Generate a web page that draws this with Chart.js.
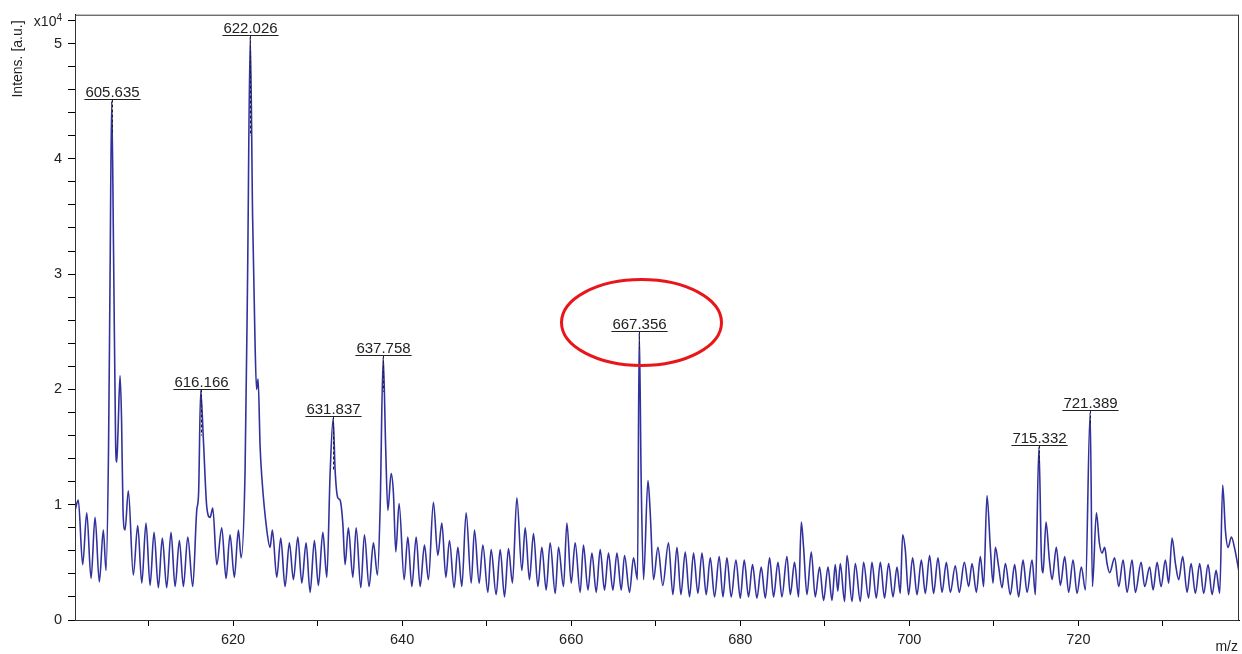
<!DOCTYPE html>
<html>
<head>
<meta charset="utf-8">
<script src="https://cdn.jsdelivr.net/npm/chart.js@4"></script>
<style>
  body { margin: 0; background: #fff; }
  #wrap { width: 1242px; height: 654px; }
</style>
</head>
<body>
<div id="wrap"><canvas id="spectrum" width="1242" height="654"></canvas></div>
<script>
// m/z and intensity (x10^4 a.u.)
const mz = [
  601.30, 601.69, 602.21, 602.69, 603.20, 603.67, 604.18, 604.65, 604.97, 605.27,
  605.45, 605.64, 605.86, 606.10, 606.24, 606.39, 606.63, 606.81, 606.98, 607.22,
  607.61, 608.20, 608.72, 609.20, 609.70, 610.18, 610.65, 611.16, 611.63, 612.15,
  612.66, 613.14, 613.65, 614.12, 614.64, 615.23, 615.70, 615.92, 616.17, 616.49,
  616.89, 617.28, 617.60, 618.07, 618.66, 619.17, 619.64, 620.15, 620.63, 620.95,
  621.42, 621.72, 622.03, 622.31, 622.60, 622.78, 622.96, 623.20, 623.40, 623.99,
  624.38, 624.65, 625.17, 625.64, 626.15, 626.66, 627.14, 627.66, 628.13, 628.64,
  629.11, 629.62, 630.09, 630.62, 631.09, 631.48, 631.84, 632.07, 632.39, 632.66,
  632.98, 633.25, 633.64, 634.17, 634.56, 635.11, 635.54, 636.09, 636.60, 637.08,
  637.40, 637.76, 638.05, 638.31, 638.70, 638.97, 639.25, 639.64, 640.24, 640.67,
  641.15, 641.66, 642.13, 642.64, 643.11, 643.70, 644.22, 644.70, 645.17, 645.60,
  646.15, 646.59, 647.06, 647.57, 648.17, 648.56, 649.11, 649.55, 650.14, 650.53,
  651.12, 651.60, 652.11, 652.58, 653.05, 653.57, 654.16, 654.56, 655.06, 655.54,
  656.06, 656.53, 657.04, 657.51, 658.11, 658.50, 659.09, 659.49, 660.00, 660.47,
  661.06, 661.45, 661.98, 662.45, 662.96, 663.43, 663.94, 664.41, 664.93, 665.41,
  665.92, 666.31, 666.90, 667.37, 667.84, 668.05, 668.28, 668.56, 669.08, 669.35,
  669.74, 670.26, 670.83, 671.51, 672.03, 672.51, 672.98, 673.49, 674.00, 674.47,
  674.99, 675.47, 675.97, 676.45, 676.96, 677.51, 677.95, 678.42, 678.93, 679.49,
  680.00, 680.47, 680.98, 681.45, 681.97, 682.48, 682.96, 683.47, 683.94, 684.46,
  684.93, 685.52, 685.92, 686.42, 686.90, 687.22, 687.49, 687.89, 688.40, 688.87,
  689.38, 689.86, 690.38, 690.85, 691.24, 691.54, 691.83, 692.34, 692.63, 693.22,
  693.61, 694.20, 694.59, 695.18, 695.58, 696.09, 696.57, 697.07, 697.55, 698.07,
  698.54, 698.93, 699.21, 699.52, 699.91, 700.39, 700.91, 701.42, 701.89, 702.40,
  702.87, 703.39, 703.87, 704.38, 704.85, 705.44, 705.91, 706.51, 707.02, 707.42,
  707.93, 708.40, 708.79, 709.19, 709.58, 709.90, 710.18, 710.57, 710.97, 711.36,
  711.95, 712.46, 712.93, 713.45, 713.93, 714.52, 714.91, 715.33, 715.62, 715.82,
  716.17, 716.57, 716.89, 717.39, 717.87, 718.38, 718.85, 719.37, 719.84, 720.35,
  720.83, 721.39, 721.66, 722.13, 722.48, 722.80, 723.11, 723.39, 723.70, 724.29,
  724.77, 725.29, 725.76, 726.35, 726.74, 727.42, 727.84, 728.43, 728.84, 729.31,
  729.78, 730.29, 730.68, 731.08, 731.48, 731.87, 732.34, 732.86, 733.33, 733.84,
  734.35, 734.82, 735.34, 735.82, 736.29, 736.72, 737.07, 737.39, 737.71, 738.10,
  738.46, 738.97
];
const intensity = [
  0.95, 1.04, 0.48, 0.93, 0.36, 0.89, 0.33, 0.78, 0.43, 1.50,
  3.00, 4.50, 3.20, 1.56, 1.37, 1.64, 2.12, 1.73, 0.95, 0.78,
  1.12, 0.39, 0.82, 0.32, 0.84, 0.30, 0.76, 0.28, 0.71, 0.28,
  0.76, 0.29, 0.69, 0.29, 0.72, 0.29, 0.95, 1.10, 1.99, 1.56,
  0.98, 0.89, 0.97, 0.48, 0.80, 0.36, 0.74, 0.37, 0.78, 0.54,
  1.30, 3.00, 5.06, 3.50, 2.40, 2.00, 2.09, 1.50, 1.24, 0.78,
  0.63, 0.78, 0.37, 0.71, 0.29, 0.67, 0.35, 0.72, 0.32, 0.67,
  0.24, 0.69, 0.30, 0.76, 0.37, 1.27, 1.75, 1.30, 1.06, 1.04,
  0.84, 0.48, 0.80, 0.37, 0.80, 0.28, 0.74, 0.29, 0.67, 0.39,
  0.98, 2.28, 1.50, 0.95, 1.27, 1.10, 0.59, 1.01, 0.35, 0.72,
  0.29, 0.72, 0.29, 0.65, 0.35, 1.02, 0.56, 0.84, 0.37, 0.69,
  0.28, 0.63, 0.29, 0.93, 0.32, 0.78, 0.32, 0.65, 0.24, 0.61,
  0.22, 0.61, 0.20, 0.62, 0.32, 1.06, 0.43, 0.80, 0.35, 0.75,
  0.29, 0.63, 0.26, 0.67, 0.23, 0.63, 0.29, 0.84, 0.32, 0.67,
  0.24, 0.65, 0.26, 0.58, 0.24, 0.61, 0.26, 0.58, 0.26, 0.58,
  0.26, 0.56, 0.24, 0.54, 0.35, 2.49, 1.20, 0.35, 1.21, 0.93,
  0.35, 0.63, 0.30, 0.67, 0.22, 0.63, 0.22, 0.59, 0.20, 0.58,
  0.23, 0.58, 0.22, 0.54, 0.20, 0.55, 0.20, 0.54, 0.20, 0.52,
  0.19, 0.52, 0.20, 0.48, 0.19, 0.46, 0.19, 0.54, 0.20, 0.50,
  0.20, 0.55, 0.22, 0.50, 0.20, 0.85, 0.63, 0.22, 0.59, 0.20,
  0.46, 0.17, 0.46, 0.17, 0.48, 0.25, 0.49, 0.16, 0.56, 0.16,
  0.49, 0.16, 0.50, 0.19, 0.50, 0.19, 0.50, 0.19, 0.49, 0.20,
  0.46, 0.23, 0.74, 0.61, 0.22, 0.54, 0.22, 0.52, 0.23, 0.56,
  0.23, 0.54, 0.24, 0.50, 0.24, 0.47, 0.24, 0.50, 0.29, 0.49,
  0.24, 0.55, 0.29, 1.08, 0.63, 0.32, 0.63, 0.46, 0.28, 0.49,
  0.22, 0.48, 0.20, 0.52, 0.24, 0.52, 0.22, 1.50, 0.55, 0.41,
  0.85, 0.52, 0.35, 0.63, 0.30, 0.55, 0.24, 0.52, 0.23, 0.46,
  0.26, 1.80, 0.29, 0.93, 0.67, 0.58, 0.63, 0.49, 0.41, 0.54,
  0.29, 0.52, 0.24, 0.52, 0.24, 0.50, 0.29, 0.46, 0.26, 0.50,
  0.29, 0.52, 0.32, 0.71, 0.49, 0.35, 0.55, 0.24, 0.49, 0.23,
  0.49, 0.23, 0.48, 0.22, 0.43, 0.23, 1.17, 0.78, 0.63, 0.72,
  0.63, 0.43
];

// labelled peaks
const peakMz = [605.64, 616.17, 622.03, 631.84, 637.76, 668.05, 715.33, 721.39];
const peakLabels = ['605.635', '616.166', '622.026', '631.837', '637.758', '667.356', '715.332', '721.389'];
const peakTop = [4.50, 1.99, 5.06, 1.75, 2.28, 2.49, 1.50, 1.80];
const peakMarkEnd = [4.22, 1.60, 4.20, 1.30, 1.98, 2.34, 1.36, 1.69];
const circledPeak = '667.356';

const xMin = 601.3, xMax = 739.0;
const yMin = 0, yMax = 5.25;
const expTick = 5.2; // where the x10^4 exponent sits

const FONT = "'Liberation Sans', Arial, sans-serif";

const spectrumDecor = {
  id: 'spectrumDecor',
  afterDatasetsDraw(chart) {
    const { ctx, chartArea: a, scales: { x, y } } = chart;
    ctx.save();
    // frame
    ctx.strokeStyle = '#333';
    ctx.lineWidth = 1;
    ctx.strokeRect(a.left + 0.5, a.top + 0.5, a.right - a.left - 1, a.bottom - a.top);

    // peak labels
    ctx.font = '15px ' + FONT;
    ctx.textAlign = 'center';
    ctx.textBaseline = 'alphabetic';
    peakMz.forEach((m, i) => {
      const px = Math.round(x.getPixelForValue(m)) + 0.5;
      const top = y.getPixelForValue(peakTop[i]);
      const uy = Math.round(top - 2) + 0.5;
      const w = ctx.measureText(peakLabels[i]).width;
      ctx.fillStyle = '#222';
      ctx.fillText(peakLabels[i], px, uy - 3);
      ctx.strokeStyle = '#222';
      ctx.lineWidth = 1.2;
      ctx.setLineDash([]);
      ctx.beginPath();
      ctx.moveTo(px - w / 2 - 1, uy);
      ctx.lineTo(px + w / 2 + 1, uy);
      ctx.stroke();
      ctx.lineWidth = 1;
      ctx.setLineDash([3, 2]);
      ctx.beginPath();
      ctx.moveTo(px, uy);
      ctx.lineTo(px, y.getPixelForValue(peakMarkEnd[i]));
      ctx.stroke();
      ctx.setLineDash([]);
      if (peakLabels[i] === circledPeak) {
        ctx.strokeStyle = '#e8161b';
        ctx.lineWidth = 3;
        ctx.beginPath();
        ctx.ellipse(px + 2, uy - 9, 80, 43, 0, 0, Math.PI * 2);
        ctx.stroke();
      }
    });

    // exponent at the top of the y axis
    const ey = y.getPixelForValue(expTick);
    const ex = a.left - 13;
    ctx.fillStyle = '#222';
    ctx.textAlign = 'right';
    ctx.textBaseline = 'alphabetic';
    ctx.font = '10px ' + FONT;
    ctx.fillText('4', ex, ey + 1);
    const w4 = ctx.measureText('4').width;
    ctx.font = '14px ' + FONT;
    ctx.fillText('x10', ex - w4, ey + 6);

    // axis titles
    ctx.font = '14px ' + FONT;
    ctx.save();
    ctx.translate(22, 59);
    ctx.rotate(-Math.PI / 2);
    ctx.textAlign = 'center';
    ctx.fillText('Intens. [a.u.]', 0, 0);
    ctx.restore();
    ctx.textAlign = 'right';
    ctx.textBaseline = 'middle';
    ctx.fillText('m/z', 1238, 647);
    ctx.restore();
  }
};

new Chart(document.getElementById('spectrum'), {
  type: 'line',
  data: {
    datasets: [{
      data: mz.map((m, i) => ({ x: m, y: intensity[i] })),
      borderColor: 'rgb(50, 50, 158)',
      borderWidth: 1.6,
      pointRadius: 0,
      fill: false,
      cubicInterpolationMode: 'monotone'
    }]
  },
  options: {
    responsive: false,
    animation: false,
    layout: { padding: { top: 11, right: 3, left: 0, bottom: 0 } },
    plugins: { legend: { display: false }, tooltip: { enabled: false } },
    scales: {
      x: {
        type: 'linear',
        min: xMin,
        max: xMax,
        afterFit: s => { s.height = 34; },
        border: { display: true, color: '#000', width: 1 },
        grid: { drawOnChartArea: false, drawTicks: true, tickLength: 6, color: '#000' },
        ticks: {
          stepSize: 10,
          includeBounds: false,
          autoSkip: false,
          maxRotation: 0,
          padding: 5,
          color: '#222',
          font: { family: FONT, size: 14.5 },
          callback: v => (Math.round(v) % 20 === 0 ? String(Math.round(v)) : '')
        }
      },
      y: {
        min: yMin,
        max: yMax,
        afterFit: s => { s.width = 75; },
        border: { display: true, color: '#000', width: 1 },
        grid: { drawOnChartArea: false, drawTicks: true, tickLength: 7, color: '#000' },
        ticks: {
          stepSize: 0.2,
          includeBounds: false,
          autoSkip: false,
          padding: 6,
          color: '#222',
          font: { family: FONT, size: 14.5 },
          callback: v => {
            const r = Math.round(v * 10);
            return r % 10 === 0 ? String(r / 10) : '';
          }
        }
      }
    }
  },
  plugins: [spectrumDecor]
});
</script>
</body>
</html>
